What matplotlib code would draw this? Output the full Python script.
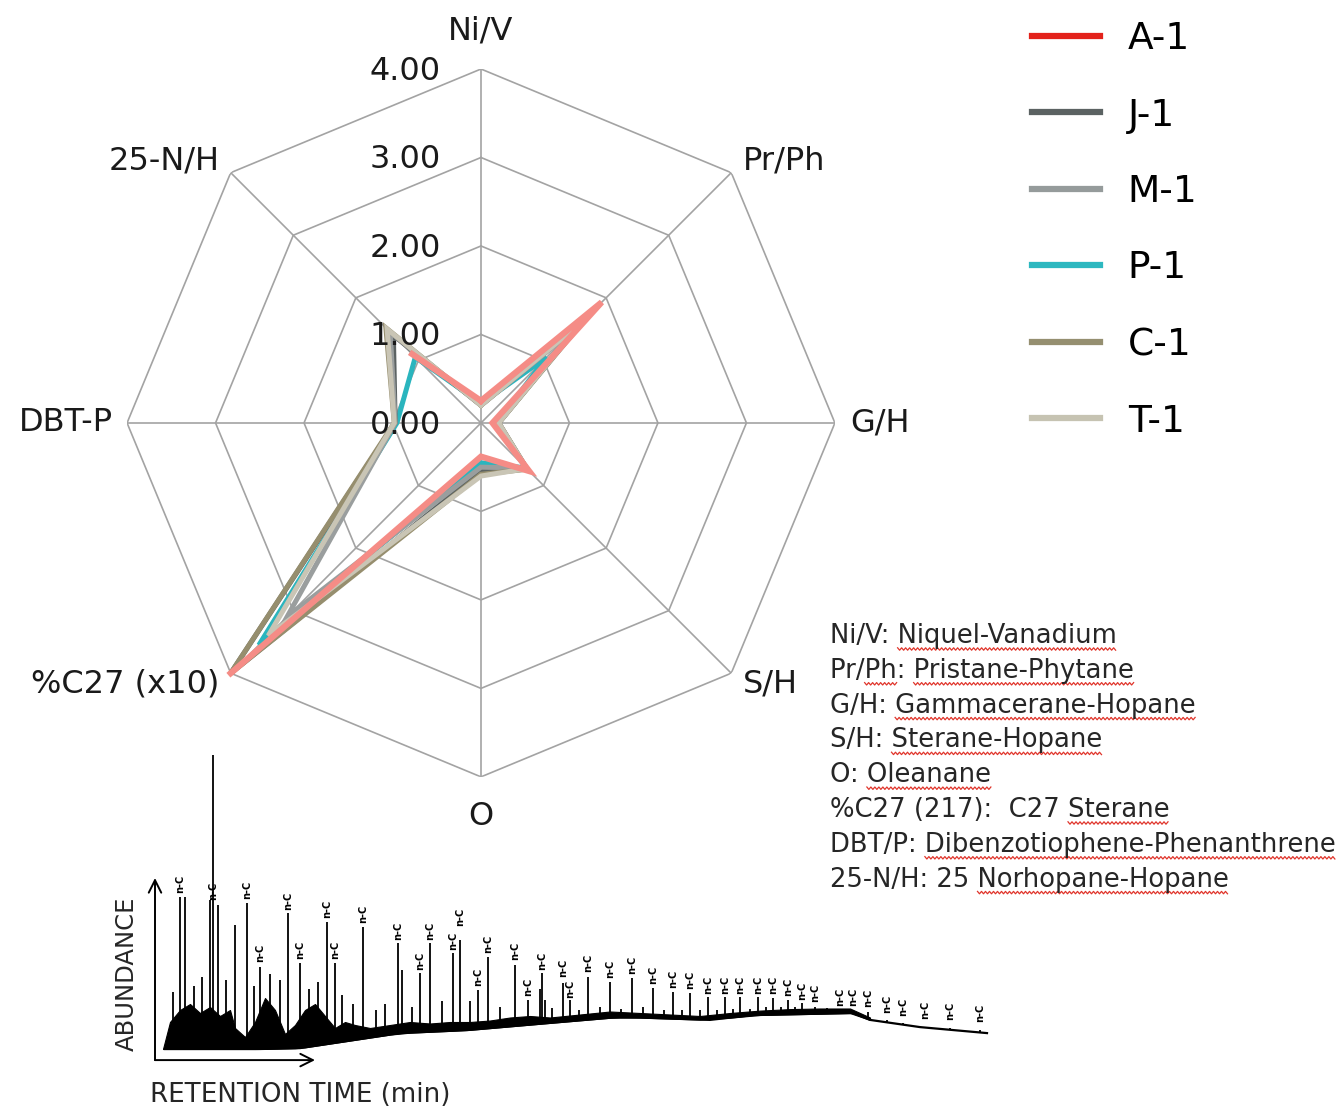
import numpy as np
import matplotlib
matplotlib.use("Agg")
import matplotlib.pyplot as plt
from matplotlib.lines import Line2D

plt.rcParams['font.family'] = ['DejaVu Sans']

W, H = 1337, 1113
DPI = 100

# radar data (order of the axes, clockwise from the top)
categories = ["Ni/V", "Pr/Ph", "G/H", "S/H", "O", "%C27 (x10)", "DBT-P", "25-N/H"]
wells = ["A-1", "J-1", "M-1", "P-1", "C-1", "T-1"]
a1 = [0.25, 1.93, 0.13, 0.77, 0.38, 4.00, np.nan, 1.10]
j1 = [0.20, 1.60, 0.20, 0.73, 0.55, 4.00, 0.97, 1.40]
m1 = [0.20, 1.50, 0.20, 0.72, 0.50, 3.10, 0.97, 1.45]
p1 = [0.22, 1.05, 0.18, 0.72, 0.45, 3.55, 0.95, 1.05]
c1 = [0.20, 1.70, 0.20, 0.74, 0.58, 4.00, 0.98, 1.52]
t1 = [0.20, 1.60, 0.20, 0.73, 0.60, 3.40, 0.98, 1.50]
r_ticks = [0, 1, 2, 3, 4]

legend_colors = ["#e3221b", "#5b6262", "#959b9b", "#2db8c0", "#958f70", "#c6c3b2"]
plot_colors = ["#f58c86", "#5b6262", "#9a9e9e", "#2ab5be", "#968e6e", "#c9c5b5"]

# chromatogram (retention units, abundance %)
base_t = [1.5, 11.0, 15.0, 25.0, 31.7, 40.0, 47.0, 56.0, 60.3, 70.3, 72.0, 77.0, 83.7]
base_ab = [1.0, 1.0, 1.3, 6.3, 7.3, 9.7, 11.7, 10.7, 12.3, 13.0, 10.7, 8.3, 6.3]
hump_t = [1.3, 2.0, 3.0, 4.0, 5.0, 6.0, 7.0, 8.0, 8.5, 9.5, 10.5, 11.5, 12.5,
          13.5, 14.5, 15.5, 16.5, 17.5, 18.5, 19.5, 20.5, 22.0, 24.0, 26.0, 28.0, 30.0,
          32.0, 34.0, 36.0, 38.0, 40.0, 43.0, 46.0, 49.0, 52.0, 55.0, 58.0, 61.0, 64.0,
          67.0, 70.0, 72.0]
hump_ab = [1.0, 10.0, 14.0, 16.0, 13.0, 15.0, 12.0, 14.0, 8.0, 5.0, 10.0, 18.0, 14.0,
           6.0, 9.0, 14.0, 16.0, 12.0, 8.0, 10.0, 9.0, 8.0, 9.0, 10.0, 9.5, 10.0,
           10.0, 10.5, 11.5, 12.0, 11.5, 12.5, 13.5, 13.0, 12.5, 12.0, 13.0, 13.8, 14.3,
           14.5, 14.5, 11.5]
peak_t = [2.3, 3.0, 3.5, 4.4, 5.2, 6.0, 6.3, 6.8, 7.6, 8.5, 9.7, 10.4, 11.0, 12.0, 13.0,
          13.8, 15.0, 15.9, 16.8, 17.7, 18.5, 19.2, 20.3, 21.3, 22.6, 23.5, 24.8, 25.2,
          26.2, 27.0, 28.0, 29.2, 30.3, 31.0, 32.0, 32.8, 33.8, 35.0, 36.5, 37.8, 39.0,
          39.2, 39.5, 40.2, 41.3, 42.0, 42.9, 43.8, 45.0, 46.0, 47.1, 48.2, 49.3, 50.3,
          51.4, 52.3, 53.2, 54.0, 55.0, 55.8, 56.7, 57.5, 58.3, 59.0, 60.0, 60.8, 61.6,
          62.3, 63.1, 63.8, 64.5, 65.2, 66.5, 67.7, 69.0, 70.3, 71.8, 73.7, 75.3, 77.5,
          80.0, 83.0]
peak_ab = [20.0, 51.7, 51.7, 22.0, 25.0, 50.7, 99.0, 49.0, 24.0, 42.3, 49.7, 22.0, 28.3,
           26.0, 24.0, 46.3, 29.7, 21.0, 23.3, 43.3, 29.7, 19.0, 16.0, 41.7, 14.0, 16.0,
           36.3, 27.3, 15.0, 26.3, 36.3, 17.0, 33.0, 37.3, 17.0, 20.7, 31.7, 15.0, 29.0,
           17.3, 21.0, 26.3, 17.3, 14.7, 23.0, 17.3, 14.0, 25.0, 15.0, 23.3, 14.5, 24.7,
           15.0, 21.3, 14.0, 20.0, 14.0, 19.7, 14.0, 18.3, 14.0, 18.3, 14.5, 18.3, 14.5,
           18.3, 15.0, 18.0, 15.0, 17.3, 15.0, 16.3, 15.0, 14.7, 14.0, 14.0, 13.3, 10.7,
           9.7, 8.3, 8.0, 7.3]
label_t = [3.0, 6.3, 9.7, 11.0, 13.8, 15.0, 17.7, 18.5, 21.3, 24.8, 27.0, 28.0, 30.3,
           31.0, 32.8, 33.8, 36.5, 37.8, 39.2, 41.3, 42.0, 43.8, 46.0, 48.2, 50.3, 52.3,
           54.0, 55.8, 57.5, 59.0, 60.8, 62.3, 63.8, 65.2, 66.5, 69.0, 70.3, 71.8, 73.7,
           75.3, 77.5, 80.0, 83.0]
label_ab = [52.5, 50.0, 50.5, 29.5, 47.0, 30.5, 44.0, 30.5, 42.5, 37.0, 27.0, 37.0, 33.5,
            41.5, 21.5, 32.5, 30.0, 18.0, 27.0, 24.5, 17.5, 26.0, 24.0, 25.5, 22.0, 21.0,
            20.5, 19.0, 19.0, 19.0, 19.0, 19.0, 18.0, 17.0, 16.0, 15.0, 15.0, 14.5, 12.5,
            11.5, 10.5, 10.0, 9.5]

abbrev_lines = [
    [("Ni/V: ", False), ("Niquel-Vanadium", True)],
    [("Pr/", False), ("Ph", True), (": ", False), ("Pristane-Phytane", True)],
    [("G/H: ", False), ("Gammacerane-Hopane", True)],
    [("S/H: ", False), ("Sterane-Hopane", True)],
    [("O: ", False), ("Oleanane", True)],
    [("%C27 (217):  C27 ", False), ("Sterane", True)],
    [("DBT/P: ", False), ("Dibenzotiophene-Phenanthrene", True)],
    [("25-N/H: 25 ", False), ("Norhopane-Hopane", True)],
]

fig = plt.figure(figsize=(W / DPI, H / DPI), dpi=DPI)
fig.patch.set_facecolor("white")

# ---------------- radar ----------------
ax = fig.add_axes([0.095, 0.302, 0.5295, 0.636], projection="polar")
ax.set_theta_zero_location("N")
ax.set_theta_direction(-1)
ax.set_ylim(0, 4)
ax.grid(False)
ax.spines["polar"].set_visible(False)
ax.set_xticks([])
ax.set_yticks([])
ax.patch.set_alpha(0)

n = len(categories)
ang = np.deg2rad(np.arange(n) * 360.0 / n)
ang_c = np.append(ang, ang[0])

grid_kw = dict(color="#a3a3a3", lw=1.2, zorder=1)
for r in r_ticks[1:]:
    ax.plot(ang_c, [r] * (n + 1), **grid_kw)
for a in ang:
    ax.plot([a, a], [0, r_ticks[-1]], **grid_kw)

for r in r_ticks:
    ax.annotate(f"{r:.2f}", xy=(0, r), xytext=(-29, -1.5), textcoords="offset points",
                ha="right", va="center", fontsize=23, color="#1a1a1a", zorder=6)

label_pos = [(4.43, "center"), (4.18, "left"), (4.17, "left"), (4.18, "left"),
             (4.45, "center"), (4.18, "right"), (4.16, "right"), (4.18, "right")]
for a, name, (rr, ha) in zip(ang, categories, label_pos):
    ax.text(a, rr, name, ha=ha, va="center", fontsize=23, color="#1a1a1a")

series = dict(zip(wells, [a1, j1, m1, p1, c1, t1]))
col = dict(zip(wells, plot_colors))
for w in ["P-1", "J-1", "M-1", "C-1", "T-1", "A-1"]:
    vals = np.append(series[w], series[w][0])
    ax.plot(ang_c, vals, color=col[w], lw=4.4 if w == "A-1" else 3.6,
            solid_joinstyle="miter", zorder=4, clip_on=False)

handles = [Line2D([], [], color=c, lw=4.5) for c in legend_colors]
fig.legend(handles, wells, loc="upper left", bbox_to_anchor=(1032 / W, 1 - 21 / H),
           frameon=False, fontsize=27, handlelength=1.8, handletextpad=0.75,
           labelspacing=1.08, borderpad=0, borderaxespad=0)

# ---------------- abbreviations ----------------
renderer = fig.canvas.get_renderer()
fs_ab = 18.6


def text_width(s):
    tmp = fig.text(0, 0, s, fontsize=fs_ab)
    w = tmp.get_window_extent(renderer).width
    tmp.remove()
    return w


x_sent = text_width("x")
x0_px, y0_px, dy_px = 830, 643, 34.8
for i, segs in enumerate(abbrev_lines):
    full = "".join(s for s, _ in segs)
    yb = y0_px + i * dy_px
    fig.text(x0_px / W, 1 - yb / H, full, fontsize=fs_ab, color="#262626", va="baseline")
    prefix = ""
    for s, under in segs:
        if under:
            xs = x0_px + (text_width(prefix + "x") - x_sent if prefix else 0)
            xe = x0_px + text_width(prefix + s)
            zx = np.arange(xs, xe, 2.0)
            zy = yb + 6 + np.where(np.arange(len(zx)) % 2 == 0, -1.2, 1.2)
            fig.add_artist(Line2D(zx / W, 1 - zy / H, transform=fig.transFigure,
                                  color="#e0352b", lw=0.9))
        prefix += s

# ---------------- chromatogram inset ----------------
cx = fig.add_axes([130 / W, (H - 1082) / H, 860 / W, 330 / H])
cx.set_xlim(-2, 84)
cx.set_ylim(-10, 100)
cx.axis("off")

bt = np.array(base_t)
bab = np.array(base_ab)
cx.plot(bt, bab, color="black", lw=1.6)
ht = np.array(hump_t)
cx.fill_between(ht, np.interp(ht, bt, bab), hump_ab, color="black", lw=0.8)
pt = np.array(peak_t)
cx.vlines(pt, np.interp(pt, bt, bab), peak_ab, color="black", lw=1.3)
for t, h in zip(label_t, label_ab):
    cx.text(t, h + 0.5, "n-C", rotation=90, fontsize=7, fontweight="bold",
            ha="center", va="bottom", color="black")

arrow = dict(arrowstyle="->,head_length=0.9,head_width=0.45", lw=1.4, color="black",
             shrinkA=0, shrinkB=0)
cx.annotate("", xy=(0.5, 58), xytext=(0.5, -2.7), arrowprops=arrow, annotation_clip=False)
cx.annotate("", xy=(16.5, -2.7), xytext=(0.5, -2.7), arrowprops=arrow, annotation_clip=False)
cx.text(-2.3, 26, "ABUNDANCE", rotation=90, ha="center", va="center", fontsize=17.5,
        color="#262626")
cx.text(0, -14.3, "RETENTION TIME (min)", ha="left", va="center", fontsize=18.8,
        color="#262626")

fig.savefig("out.png", dpi=DPI)
